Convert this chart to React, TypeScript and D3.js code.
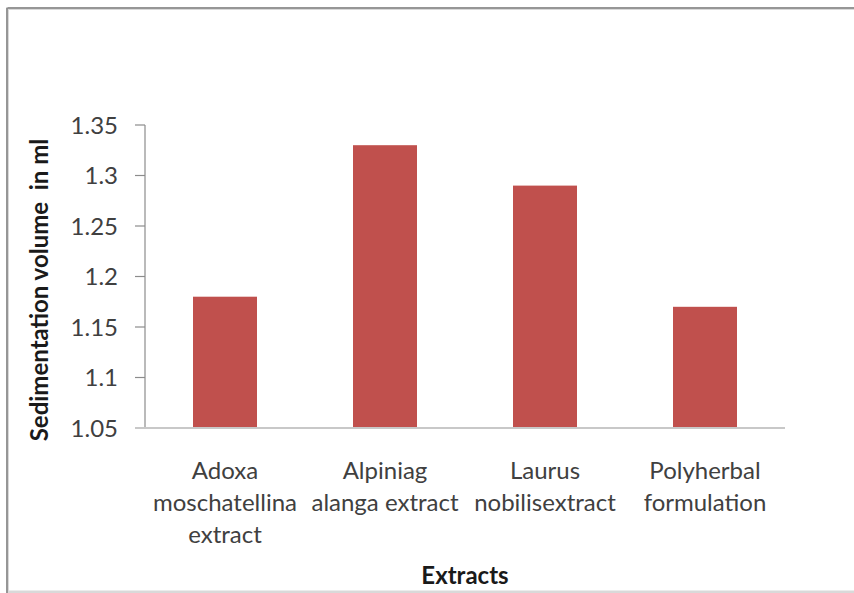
import React from "react";
import * as d3 from "d3";

const categories: string[][] = [
  ["Adoxa", "moschatellina", "extract"],
  ["Alpiniag", "alanga extract"],
  ["Laurus", "nobilisextract"],
  ["Polyherbal", "formulation"],
];
const values: number[] = [1.18, 1.33, 1.29, 1.17];
const yTicks: number[] = [1.05, 1.1, 1.15, 1.2, 1.25, 1.3, 1.35];
const yTitle = "Sedimentation volume  in ml";
const xTitle = "Extracts";

const W = 854;
const H = 593;
const FONT = "Lato, 'Open Sans', sans-serif";

export default function App() {
  const left = 145;
  const right = 785;
  const top = 125;
  const bottom = 428;

  const keys = categories.map((c) => c.join(" "));
  const x = d3
    .scaleBand<string>()
    .domain(keys)
    .range([left, right])
    .paddingInner(0.6)
    .paddingOuter(0.3);
  const y = d3.scaleLinear().domain([1.05, 1.35]).range([bottom, top]);

  return (
    <svg
      width={W}
      height={H}
      style={{ position: "absolute", left: 0, top: 0, background: "#fff" }}
      fontFamily={FONT}
    >
      {/* chart frame */}
      <rect x={7.5} y={8.5} width={W + 20} height={583.5} fill="none" stroke="#d9d9d9" strokeWidth={3} />
      <line x1={7.5} y1={8} x2={W} y2={8} stroke="#7f7f7f" strokeWidth={1.5} />
      <line x1={7} y1={8} x2={7} y2={H} stroke="#7f7f7f" strokeWidth={1.5} />

      {/* bars */}
      {values.map((v, i) => (
        <rect
          key={keys[i]}
          x={x(keys[i])}
          y={y(v)}
          width={x.bandwidth()}
          height={bottom - y(v)}
          fill="#C0504D"
        />
      ))}

      {/* y axis */}
      <line x1={left} y1={top} x2={left} y2={bottom} stroke="#8c8c8c" strokeWidth={1.2} />
      {yTicks.map((t) => (
        <g key={t}>
          <line x1={left - 10} x2={left} y1={y(t)} y2={y(t)} stroke="#8c8c8c" strokeWidth={1.2} />
          <text
            x={118}
            y={y(t)}
            dy="0.36em"
            textAnchor="end"
            fontSize={24}
            fill="#404040"
          >
            {String(t)}
          </text>
        </g>
      ))}

      {/* x axis */}
      <line x1={left - 10} x2={right} y1={bottom} y2={bottom} stroke="#c8c8c8" strokeWidth={2} />
      {categories.map((lines, i) => {
        const cx = (x(keys[i]) as number) + x.bandwidth() / 2;
        return (
          <text key={keys[i]} textAnchor="middle" fontSize={24} fill="#404040">
            {lines.map((ln, j) => (
              <tspan key={j} x={cx} y={479 + j * 32}>
                {ln}
              </tspan>
            ))}
          </text>
        );
      })}

      {/* axis titles */}
      <text
        transform="translate(48, 290) rotate(-90)"
        textAnchor="middle"
        fontSize={24}
        fontWeight="bold"
        fill="#1a1a1a"
        style={{ whiteSpace: "pre" }}
      >
        {yTitle}
      </text>
      <text
        x={(left + right) / 2}
        y={584}
        textAnchor="middle"
        fontSize={24}
        fontWeight="bold"
        fill="#1a1a1a"
      >
        {xTitle}
      </text>
    </svg>
  );
}
